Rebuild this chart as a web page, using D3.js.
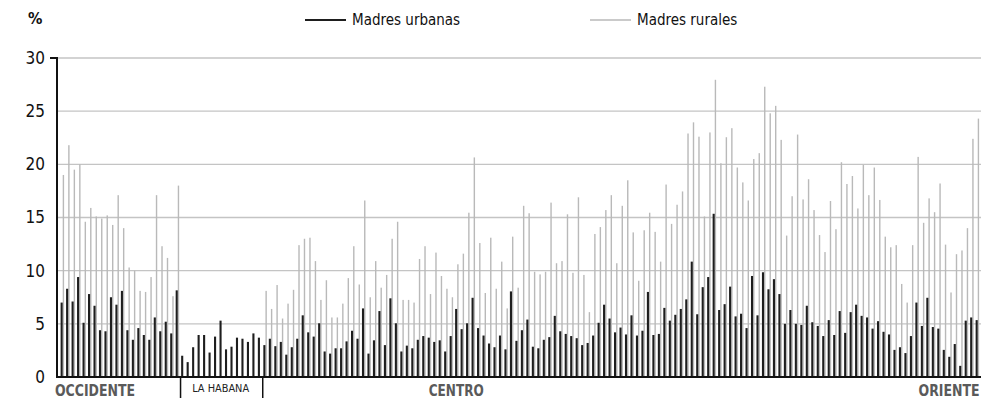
<!DOCTYPE html>
<html>
<head>
<meta charset="utf-8">
<script src="https://cdn.jsdelivr.net/npm/d3@7"></script>
<style>
  html, body { margin: 0; padding: 0; background: #fff; }
  svg { display: block; }
  text { font-family: "DejaVu Sans Condensed", "Liberation Sans Narrow", sans-serif; }
</style>
</head>
<body>
<svg id="chart" width="998" height="402"></svg>
<script>
// Tasa por municipio (%), madres urbanas y rurales, ordenada de oeste a este
const urbanas = [
  // Occidente
  7.0, 8.3, 7.1, 9.4, 5.1, 7.8, 6.7, 4.4, 4.3, 7.5, 6.8, 8.1, 4.4, 3.5, 4.6, 3.95, 3.5, 5.6, 4.3, 5.2, 4.1, 8.15,
  // La Habana
  2.0, 1.4, 2.8, 3.95, 3.95, 2.3, 3.8, 5.3, 2.6, 2.85, 3.7, 3.6, 3.3, 4.1, 3.7,
  // Centro y Oriente
  3.0, 3.6, 2.9, 3.3, 2.1, 2.8, 3.6, 5.8, 4.2, 3.8,
  5.05, 2.4, 2.2, 2.7, 2.7, 3.35, 4.35, 3.6, 6.45, 2.2,
  3.45, 6.2, 3.0, 7.4, 5.05, 2.4, 2.95, 2.7, 3.5, 3.85,
  3.7, 3.3, 3.45, 2.4, 3.85, 6.4, 4.5, 5.05, 7.45, 4.6,
  3.9, 3.15, 2.8, 3.9, 2.6, 8.05, 3.4, 4.4, 5.4, 2.85,
  2.7, 3.5, 3.75, 5.75, 4.3, 4.05, 3.85, 3.65, 3.0, 3.2,
  3.9, 5.1, 6.8, 5.5, 4.2, 4.65, 4.0, 5.8, 3.9, 4.35,
  8.0, 3.95, 4.05, 6.5, 5.3, 5.85, 6.4, 7.3, 10.85, 5.9,
  8.45, 9.4, 15.35, 6.3, 6.85, 8.5, 5.7, 5.95, 4.6, 9.5,
  5.8, 9.85, 8.25, 9.2, 7.8, 5.0, 6.3, 5.0, 4.9, 6.7,
  5.15, 4.8, 3.85, 5.35, 3.95, 6.2, 4.15, 6.1, 6.8, 5.75,
  5.6, 4.55, 5.25, 4.25, 4.0, 2.55, 2.8, 2.25, 3.85, 7.0,
  4.8, 7.45, 4.7, 4.55, 2.55, 1.9, 3.1, 1.05, 5.3, 5.6, 5.35
];

const rurales = [
  // Occidente
  19.0, 21.8, 19.5, 20.0, 14.6, 15.9, 15.1, 14.9, 15.2, 14.3, 17.1, 14.0, 10.3, 10.0, 8.1, 8.0, 9.4, 17.1, 12.3, 11.2, 7.6, 18.0,
  // La Habana (sin población rural)
  null, null, null, null, null, null, null, null, null, null, null, null, null, null, null,
  // Centro y Oriente
  8.1, 6.4, 8.65, 5.5, 6.9, 8.2, 12.4, 13.0, 13.1, 10.9,
  7.25, 9.1, 5.6, 5.6, 6.9, 9.3, 12.3, 8.7, 16.6, 7.5,
  10.9, 8.4, 9.6, 13.0, 14.6, 7.25, 7.25, 7.0, 11.1, 12.3,
  7.8, 11.7, 9.5, 8.3, 7.5, 10.6, 11.6, 15.45, 20.65, 12.6,
  7.9, 13.1, 8.3, 10.85, 6.45, 13.2, 8.4, 16.1, 15.4, 9.9,
  9.65, 9.9, 16.4, 10.7, 10.9, 15.3, 9.8, 16.9, 9.6, 6.1,
  13.45, 14.1, 15.7, 17.1, 10.7, 16.1, 18.5, 13.6, 9.05, 13.8,
  15.45, 13.65, 10.85, 18.1, 14.4, 16.2, 17.45, 22.9, 23.95, 22.6,
  15.1, 23.0, 27.95, 20.1, 22.55, 23.4, 19.7, 18.3, 16.6, 20.5,
  21.05, 27.3, 24.8, 25.5, 22.3, 13.3, 17.0, 22.8, 16.7, 18.6,
  15.7, 13.35, 11.75, 16.55, 13.9, 20.2, 18.15, 18.9, 15.85, 19.95,
  17.1, 19.7, 16.65, 13.2, 12.2, 12.4, 8.75, 7.0, 12.4, 20.7,
  14.5, 16.8, 15.5, 18.2, 12.45, 7.95, 11.55, 11.9, 14.0, 22.4, 24.3
];

const regionNames = ["OCCIDENTE", "LA HABANA", "CENTRO", "ORIENTE"];
const regionSizes = [22, 15, 77, 54];
const yTicks = [0, 5, 10, 15, 20, 25, 30];
const seriesNames = ["Madres urbanas", "Madres rurales"];

const colUrb = "#1e1e1e";
const colRur = "#b9b9b9";
const colGrid = "#c4c4c4";

const svg = d3.select("#chart");
const margin = { left: 59, right: 18.5 };
const W = 998;

const idx = d3.range(urbanas.length);
const x = d3.scaleBand().domain(idx).range([margin.left, W - margin.right]).paddingInner(0).paddingOuter(0);
const y = d3.scaleLinear().domain([0, 30]).range([377, 58]);
const step = x.step();

// Gridlines
svg.append("g")
  .selectAll("line")
  .data(yTicks.filter(d => d > 0))
  .join("line")
  .attr("x1", 57).attr("x2", 981)
  .attr("y1", d => y(d)).attr("y2", d => y(d))
  .attr("stroke", colGrid).attr("stroke-width", 1.3);

// Rural bars
svg.append("g")
  .selectAll("rect")
  .data(idx.filter(i => rurales[i] != null))
  .join("rect")
  .attr("x", i => x(i) + 3.7)
  .attr("width", 1.4)
  .attr("y", i => y(rurales[i]))
  .attr("height", i => y(0) - y(rurales[i]))
  .attr("fill", colRur);

// Urban bars
svg.append("g")
  .selectAll("rect")
  .data(idx)
  .join("rect")
  .attr("x", i => x(i) + 1.6)
  .attr("width", 2.1)
  .attr("y", i => y(urbanas[i]))
  .attr("height", i => y(0) - y(urbanas[i]))
  .attr("fill", colUrb);

// Y axis
const yAxis = d3.axisLeft(y).tickValues(yTicks).tickSize(0).tickPadding(12).tickFormat(d3.format("d"));
const gy = svg.append("g").attr("transform", `translate(57,0)`).call(yAxis);
gy.select(".domain").remove();
gy.selectAll("text").attr("font-size", 17).attr("fill", "#111");
svg.append("line").attr("x1", 57).attr("x2", 57).attr("y1", y(30) - 0.5).attr("y2", y(0) + 1)
  .attr("stroke", "#111").attr("stroke-width", 2);
svg.append("line").attr("x1", 50).attr("x2", 58).attr("y1", y(30)).attr("y2", y(30))
  .attr("stroke", "#111").attr("stroke-width", 2);

// X baseline
svg.append("line").attr("x1", 56).attr("x2", 981).attr("y1", y(0)).attr("y2", y(0))
  .attr("stroke", "#111").attr("stroke-width", 2);

// Separators around La Habana
const cum = d3.cumsum(regionSizes);
[cum[0], cum[1]].forEach(k => {
  svg.append("line")
    .attr("x1", x(k) + 1).attr("x2", x(k) + 1)
    .attr("y1", y(0)).attr("y2", 398)
    .attr("stroke", "#111").attr("stroke-width", 1.5);
});

// Region labels
const labY = 396;
const boldLabel = (txt, xPos, anchor, len) => svg.append("text").text(txt)
  .attr("x", xPos).attr("y", labY)
  .attr("text-anchor", anchor)
  .attr("textLength", len).attr("lengthAdjust", "spacingAndGlyphs")
  .attr("font-size", 15).attr("font-weight", "bold").attr("fill", "#5a5a5a");
boldLabel(regionNames[0], 55, "start", 80);
svg.append("text").text(regionNames[1])
  .attr("x", (x(cum[0]) + x(cum[1])) / 2).attr("y", labY - 4)
  .attr("text-anchor", "middle")
  .attr("textLength", 57).attr("lengthAdjust", "spacingAndGlyphs")
  .attr("font-size", 11).attr("fill", "#222");
boldLabel(regionNames[2], x(72) + step / 2, "middle", 55);
boldLabel(regionNames[3], x(urbanas.length - 1) + step, "end", 61);

// Unit label
svg.append("text").text("%").attr("x", 28).attr("y", 24)
  .attr("font-size", 16).attr("font-weight", "bold").attr("fill", "#111");

// Legend
const legend = svg.append("g");
[[305, colUrb, 2], [590, colRur, 1.5]].forEach((d, i) => {
  legend.append("line").attr("x1", d[0]).attr("x2", d[0] + 41).attr("y1", 20).attr("y2", 20)
    .attr("stroke", d[1]).attr("stroke-width", d[2]);
  legend.append("text").text(seriesNames[i]).attr("x", d[0] + 47).attr("y", 25)
    .attr("font-size", 15).attr("fill", "#111");
});
</script>
</body>
</html>
